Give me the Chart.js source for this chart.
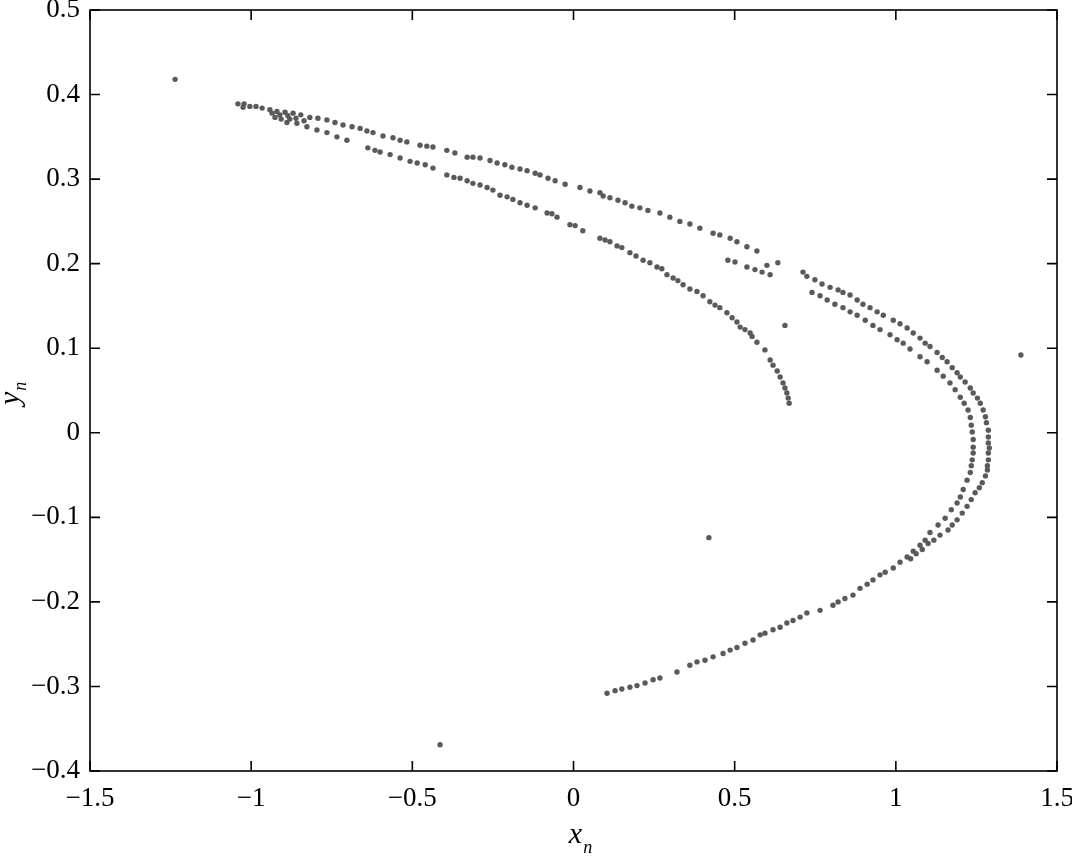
<!DOCTYPE html>
<html>
<head>
<meta charset="utf-8">
<script src="https://cdn.jsdelivr.net/npm/chart.js@4.4.1/dist/chart.umd.min.js"></script>
<style>
  html, body { margin: 0; padding: 0; background: #fff; }
  #wrap { width: 1072px; height: 856px; }
</style>
</head>
<body>
<div id="wrap"><canvas id="chart" width="1072" height="856"></canvas></div>
<script>
// --- DATA ---
const xTicks = [-1.5, -1, -0.5, 0, 0.5, 1, 1.5];
const xTickLabels = ['\u22121.5', '\u22121', '\u22120.5', '0', '0.5', '1', '1.5'];
const yTicks = [-0.4, -0.3, -0.2, -0.1, 0, 0.1, 0.2, 0.3, 0.4, 0.5];
const yTickLabels = ['\u22120.4', '\u22120.3', '\u22120.2', '\u22120.1', '0', '0.1', '0.2', '0.3', '0.4', '0.5'];

// upper band, top strand
const topStrand = [
  [-1.041,0.389],[-1.025,0.385],[-1.022,0.389],[-1.004,0.386],[-0.985,0.386],[-0.966,0.384],[-0.942,0.382],
  [-0.920,0.380],[-0.895,0.379],[-0.870,0.378],[-0.846,0.376],[-0.818,0.373],[-0.793,0.372],[-0.765,0.370],
  [-0.740,0.367],[-0.715,0.364],[-0.687,0.362],[-0.662,0.360],[-0.641,0.357],[-0.622,0.355],[-0.591,0.351],
  [-0.560,0.349],[-0.538,0.346],[-0.517,0.344],[-0.476,0.340],[-0.455,0.339],[-0.436,0.338],[-0.393,0.334],
  [-0.368,0.331],[-0.330,0.326],[-0.312,0.326],[-0.290,0.325],[-0.259,0.322],[-0.237,0.319],[-0.213,0.317],
  [-0.191,0.314],[-0.166,0.312],[-0.144,0.310],[-0.119,0.307],[-0.104,0.305],[-0.079,0.301],[-0.057,0.298],
  [-0.026,0.294],[0.020,0.290],[0.051,0.286],[0.082,0.284],[0.092,0.280],[0.113,0.278],[0.138,0.275],
  [0.160,0.272],[0.181,0.268],[0.206,0.266],[0.231,0.263],[0.268,0.260],[0.299,0.255],[0.330,0.250],
  [0.361,0.247],[0.392,0.242],[0.433,0.236],[0.454,0.234],[0.486,0.230],[0.507,0.226],[0.538,0.220],
  [0.569,0.215],[0.600,0.198],[0.634,0.201]
];

// short twin segment near x = 0.5..0.6
const twinSegment = [
  [0.479,0.204],[0.501,0.202],[0.538,0.196],[0.563,0.193],[0.585,0.190],[0.610,0.187]
];

// dense cluster near the left tip
const leftCluster = [
  [-0.935,0.378],[-0.911,0.376],[-0.886,0.375],[-0.880,0.371],[-0.861,0.372],[-0.836,0.369]
];

// upper band, lower strand ending near (0.67, 0.035)
const innerStrand = [
  [-0.926,0.373],[-0.907,0.371],[-0.889,0.367],[-0.858,0.366],[-0.827,0.362],[-0.796,0.358],[-0.765,0.355],
  [-0.734,0.350],[-0.703,0.346],[-0.638,0.337],[-0.616,0.334],[-0.600,0.332],[-0.569,0.329],[-0.538,0.325],
  [-0.507,0.321],[-0.485,0.319],[-0.460,0.317],[-0.436,0.313],[-0.393,0.305],[-0.371,0.302],[-0.352,0.301],
  [-0.330,0.298],[-0.312,0.295],[-0.290,0.293],[-0.268,0.290],[-0.250,0.287],[-0.228,0.281],[-0.206,0.279],
  [-0.188,0.276],[-0.166,0.272],[-0.144,0.269],[-0.119,0.266],[-0.082,0.260],[-0.067,0.259],[-0.051,0.255],
  [-0.011,0.246],[0.005,0.245],[0.029,0.239],[0.082,0.230],[0.098,0.228],[0.113,0.226],[0.135,0.221],
  [0.150,0.219],[0.175,0.213],[0.194,0.209],[0.216,0.204],[0.237,0.201],[0.259,0.196],[0.274,0.194],
  [0.290,0.187],[0.309,0.183],[0.324,0.180],[0.340,0.175],[0.361,0.170],[0.383,0.167],[0.402,0.162],
  [0.423,0.155],[0.439,0.151],[0.454,0.148],[0.476,0.142],[0.492,0.136],[0.507,0.131],[0.517,0.125],
  [0.532,0.122],[0.548,0.118],[0.554,0.114],[0.569,0.107],[0.594,0.098],[0.610,0.086],[0.619,0.080],
  [0.632,0.073],[0.641,0.066],[0.650,0.059],[0.656,0.053],[0.662,0.047],[0.666,0.041],[0.669,0.035]
];

// right arc, outer strand
const outerArc = [
  [0.712,0.190],[0.724,0.185],[0.749,0.181],[0.771,0.176],[0.796,0.172],[0.821,0.169],[0.836,0.166],
  [0.858,0.163],[0.880,0.157],[0.898,0.152],[0.920,0.148],[0.942,0.143],[0.961,0.139],[0.992,0.133],
  [1.013,0.129],[1.035,0.124],[1.054,0.118],[1.075,0.112],[1.091,0.106],[1.106,0.102],[1.128,0.095],
  [1.144,0.089],[1.159,0.084],[1.175,0.077],[1.190,0.071],[1.200,0.066],[1.215,0.060],[1.231,0.053],
  [1.240,0.047],[1.253,0.041],[1.262,0.035],[1.271,0.027],[1.278,0.019],[1.281,0.012],[1.287,0.003],
  [1.287,-0.005],[1.287,-0.012],[1.290,-0.018],[1.287,-0.024],[1.287,-0.032],[1.284,-0.039],[1.284,-0.044],
  [1.278,-0.051],[1.268,-0.059],[1.259,-0.065],[1.246,-0.071],[1.234,-0.079],[1.221,-0.087],[1.206,-0.095],
  [1.190,-0.103],[1.175,-0.109],[1.162,-0.115],[1.137,-0.121],[1.118,-0.127],[1.100,-0.131],[1.082,-0.138],
  [1.063,-0.143],[1.046,-0.149]
];

// right arc, inner strand
const innerArc = [
  [0.740,0.166],[0.765,0.162],[0.787,0.157],[0.811,0.152],[0.836,0.148],[0.858,0.143],[0.880,0.139],
  [0.905,0.133],[0.929,0.127],[0.951,0.122],[0.982,0.116],[1.004,0.110],[1.023,0.106],[1.044,0.099],
  [1.075,0.090],[1.097,0.084],[1.128,0.074],[1.147,0.067],[1.168,0.059],[1.184,0.051],[1.200,0.042],
  [1.212,0.035],[1.224,0.027],[1.231,0.018],[1.234,0.009],[1.237,0.001],[1.240,-0.008],[1.240,-0.017],
  [1.240,-0.024],[1.237,-0.032],[1.234,-0.039],[1.231,-0.047],[1.221,-0.056],[1.209,-0.067],[1.200,-0.076],
  [1.190,-0.083],[1.172,-0.091],[1.153,-0.101],[1.131,-0.109],[1.106,-0.118],[1.091,-0.127],[1.075,-0.133],
  [1.054,-0.140],[1.035,-0.147]
];

// lower branch back to (0.1, -0.31)
const lowerBranch = [
  [1.013,-0.153],[0.992,-0.160],[0.967,-0.165],[0.951,-0.168],[0.929,-0.174],[0.911,-0.179],[0.889,-0.184],
  [0.867,-0.192],[0.842,-0.196],[0.821,-0.200],[0.805,-0.204],[0.765,-0.210],[0.724,-0.213],[0.703,-0.218],
  [0.681,-0.222],[0.662,-0.225],[0.641,-0.230],[0.619,-0.233],[0.594,-0.237],[0.579,-0.239],[0.557,-0.245],
  [0.532,-0.249],[0.507,-0.254],[0.486,-0.257],[0.464,-0.261],[0.433,-0.265],[0.408,-0.269],[0.383,-0.271],
  [0.361,-0.275],[0.321,-0.283],[0.268,-0.290],[0.247,-0.292],[0.222,-0.296],[0.197,-0.299],[0.175,-0.301],
  [0.150,-0.303],[0.129,-0.305],[0.104,-0.308]
];

// lone points
const strayPoints = [
  [-1.236,0.418],[1.388,0.092],[0.420,-0.124],[-0.414,-0.369],[0.656,0.127]
];

const allPoints = [].concat(topStrand, twinSegment, leftCluster, innerStrand, outerArc, innerArc, lowerBranch, strayPoints)
  .map(p => ({ x: p[0], y: p[1] }));

// --- PLUGINS ---
const serif = '"Liberation Serif", "DejaVu Serif", serif';

const frame = {
  id: 'frame',
  afterDraw(chart) {
    const { ctx, chartArea: a, scales } = chart;
    ctx.save();
    ctx.strokeStyle = '#000';
    ctx.lineWidth = 1.6;
    ctx.strokeRect(a.left, a.top, a.right - a.left, a.bottom - a.top);
    const len = 10;
    ctx.beginPath();
    xTicks.forEach(v => {
      const px = scales.x.getPixelForValue(v);
      ctx.moveTo(px, a.bottom); ctx.lineTo(px, a.bottom - len);
      ctx.moveTo(px, a.top); ctx.lineTo(px, a.top + len);
    });
    yTicks.forEach(v => {
      const py = scales.y.getPixelForValue(v);
      ctx.moveTo(a.left, py); ctx.lineTo(a.left + len, py);
      ctx.moveTo(a.right, py); ctx.lineTo(a.right - len, py);
    });
    ctx.stroke();

    // axis titles x_n / y_n
    ctx.fillStyle = '#000';
    ctx.textBaseline = 'alphabetic';
    ctx.textAlign = 'left';
    const cx = scales.x.getPixelForValue(0);
    ctx.font = 'italic 30px ' + serif;
    const xw = ctx.measureText('x').width;
    ctx.fillText('x', cx - xw / 2 + 2, 843);
    ctx.font = 'italic 18px ' + serif;
    ctx.fillText('n', cx + xw / 2 + 3, 853);

    ctx.translate(19, 405);
    ctx.rotate(-Math.PI / 2);
    ctx.font = 'italic 30px ' + serif;
    const yw = ctx.measureText('y').width;
    ctx.fillText('y', 0, 0);
    ctx.font = 'italic 18px ' + serif;
    ctx.fillText('n', yw + 1, 7);
    ctx.restore();
  }
};

new Chart(document.getElementById('chart'), {
  type: 'scatter',
  data: {
    datasets: [{
      data: allPoints,
      backgroundColor: '#5a5a5a',
      borderWidth: 0,
      pointRadius: 2.7,
      pointHoverRadius: 2.7
    }]
  },
  options: {
    responsive: false,
    animation: false,
    events: [],
    layout: { padding: { top: 10, right: 15, left: 0, bottom: 0 } },
    plugins: { legend: { display: false }, tooltip: { enabled: false } },
    scales: {
      x: {
        type: 'linear', min: -1.5, max: 1.5,
        afterBuildTicks: s => { s.ticks = xTicks.map(v => ({ value: v })); },
        afterFit: s => { s.height = 85; s.paddingLeft = 0; s.paddingRight = 0; },
        grid: { display: false, drawTicks: false },
        border: { display: false },
        ticks: {
          color: '#000', padding: 12, maxRotation: 0,
          font: { family: serif, size: 27 },
          callback: v => xTickLabels[xTicks.indexOf(v)]
        }
      },
      y: {
        type: 'linear', min: -0.4, max: 0.5,
        afterBuildTicks: s => { s.ticks = yTicks.map(v => ({ value: v })); },
        afterFit: s => { s.width = 90; s.paddingTop = 0; s.paddingBottom = 0; },
        grid: { display: false, drawTicks: false },
        border: { display: false },
        ticks: {
          color: '#000', padding: 10,
          font: { family: serif, size: 27 },
          callback: v => {
            const i = yTicks.findIndex(t => Math.abs(t - v) < 1e-9);
            return i >= 0 ? yTickLabels[i] : '';
          }
        }
      }
    }
  },
  plugins: [frame]
});
</script>
</body>
</html>
